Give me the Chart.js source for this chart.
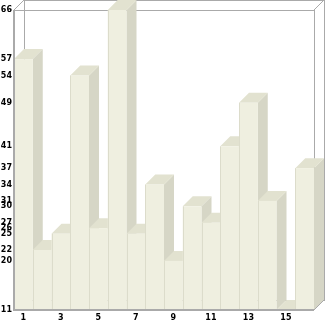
<!DOCTYPE html>
<html>
<head>
<meta charset="utf-8">
<script src="https://cdn.jsdelivr.net/npm/chart.js@4/dist/chart.umd.min.js"></script>
<style>
  html, body { margin: 0; padding: 0; background: #fff; }
  #wrap { width: 326px; height: 321px; }
</style>
</head>
<body>
<div id="wrap"><canvas id="myChart" width="326" height="321"></canvas></div>
<script>
// chart data
const categories = ["1","2","3","4","5","6","7","8","9","10","11","12","13","14","15","16"];
const values = [57, 22, 25, 54, 26, 66, 25, 34, 20, 30, 27, 41, 49, 31, 11, 37];
// y tick labels are the data values themselves
const yTicks = [11, 20, 22, 25, 26, 27, 30, 31, 34, 37, 41, 49, 54, 57, 66];

// depth of the 3d effect
const DEPTH = 10;

// colours
const frontColor = '#efefe0';
const sideColor = '#d6d6c6';
const topColor = '#e2e2d0';
const edgeColor = '#dcdccb';
const frameColor = '#aaaaaa';

function line(ctx, x1, y1, x2, y2) {
  ctx.beginPath();
  ctx.moveTo(x1, y1);
  ctx.lineTo(x2, y2);
  ctx.stroke();
}

// draws the box frame and the 3d bars
const box3d = {
  id: 'box3d',
  beforeDatasetsDraw(chart) {
    const ctx = chart.ctx;
    const a = chart.chartArea;
    ctx.save();
    ctx.strokeStyle = frameColor;
    ctx.lineWidth = 1;
    // back wall
    ctx.strokeRect(a.left + DEPTH + 0.5, a.top - DEPTH + 0.5, a.right - a.left, a.bottom - a.top);
    // front top and right edges
    line(ctx, a.left, a.top + 0.5, a.right, a.top + 0.5);
    line(ctx, a.right + 0.5, a.top, a.right + 0.5, a.bottom);
    // connecting diagonals
    line(ctx, a.left, a.top, a.left + DEPTH, a.top - DEPTH);
    line(ctx, a.right, a.top, a.right + DEPTH, a.top - DEPTH);
    ctx.restore();
  },
  afterDatasetsDraw(chart) {
    const ctx = chart.ctx;
    const a = chart.chartArea;
    const meta = chart.getDatasetMeta(0);
    ctx.save();
    meta.data.forEach(function(bar) {
      const w = bar.width;
      const l = bar.x - w / 2;
      const r = bar.x + w / 2;
      const t = bar.y;
      // bars start at the axis minimum
      const b = Math.min(bar.base, a.bottom);
      // side
      ctx.fillStyle = sideColor;
      ctx.beginPath();
      ctx.moveTo(r, t);
      ctx.lineTo(r + DEPTH, t - DEPTH);
      ctx.lineTo(r + DEPTH, b - DEPTH);
      ctx.lineTo(r, b);
      ctx.closePath();
      ctx.fill();
      // top
      ctx.fillStyle = topColor;
      ctx.beginPath();
      ctx.moveTo(l, t);
      ctx.lineTo(l + DEPTH, t - DEPTH);
      ctx.lineTo(r + DEPTH, t - DEPTH);
      ctx.lineTo(r, t);
      ctx.closePath();
      ctx.fill();
      // front
      ctx.fillStyle = frontColor;
      ctx.fillRect(l, t, w, b - t);
      ctx.strokeStyle = edgeColor;
      ctx.lineWidth = 1;
      line(ctx, Math.round(l) + 0.5, t, Math.round(l) + 0.5, b);
    });
    // axis lines on top
    ctx.strokeStyle = frameColor;
    ctx.lineWidth = 2;
    line(ctx, a.left, a.top, a.left, a.bottom + 1);
    line(ctx, a.left, a.bottom, a.right, a.bottom);
    ctx.lineWidth = 1;
    line(ctx, a.right, a.bottom, a.right + DEPTH, a.bottom - DEPTH);
    line(ctx, a.right + DEPTH + 0.5, a.bottom - DEPTH, a.right + DEPTH + 0.5, a.top - DEPTH);
    ctx.restore();
  }
};

const config = {
  type: 'bar',
  data: {
    labels: categories,
    datasets: [{
      data: values,
      backgroundColor: 'rgba(0,0,0,0)',
      borderWidth: 0,
      barPercentage: 1,
      categoryPercentage: 1
    }]
  },
  options: {
    responsive: false,
    animation: false,
    layout: { padding: { top: 10, right: 12, left: 0, bottom: 0 } },
    plugins: { legend: { display: false }, tooltip: { enabled: false } },
    scales: {
      x: {
        grid: { display: false, drawTicks: false, tickLength: 0 },
        border: { display: false },
        ticks: {
          autoSkip: false,
          maxRotation: 0,
          padding: 3,
          color: '#000',
          font: { family: 'DejaVu Sans', size: 8, weight: 'bold' },
          callback: function(val, i) { return i % 2 === 0 ? categories[i] : ''; }
        },
        afterFit: function(scale) { scale.height = 11; }
      },
      y: {
        min: 11,
        max: 66,
        grid: { display: false, drawTicks: false, tickLength: 0 },
        border: { display: false },
        ticks: {
          autoSkip: false,
          padding: 2,
          color: '#000',
          font: { family: 'DejaVu Sans', size: 8, weight: 'bold' }
        },
        afterBuildTicks: function(scale) {
          scale.ticks = yTicks.map(function(v) { return { value: v }; });
        },
        afterFit: function(scale) { scale.width = 14; }
      }
    }
  },
  plugins: [box3d]
};

const myChart = new Chart(document.getElementById('myChart'), config);
</script>
</body>
</html>
